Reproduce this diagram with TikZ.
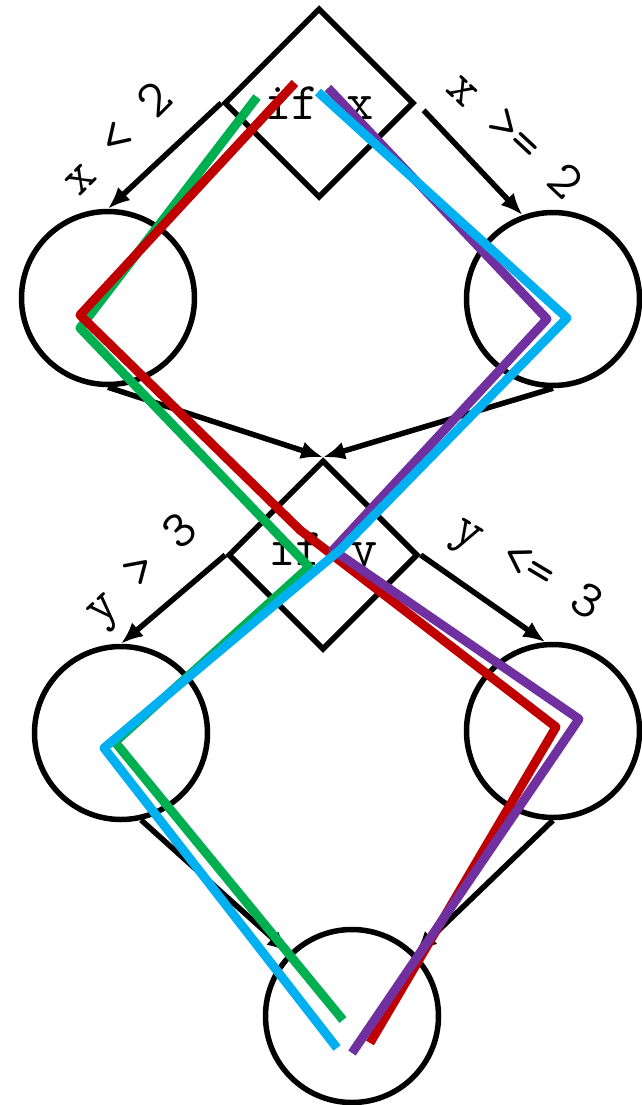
\documentclass[tikz,border=0pt]{standalone}
\usetikzlibrary{arrows.meta, positioning, shapes.geometric}
\definecolor{pathgreen}{RGB}{0,176,80}
\definecolor{pathred}{RGB}{192,0,0}
\definecolor{pathpurple}{RGB}{112,48,160}
\definecolor{pathblue}{RGB}{0,176,240}

\begin{document}
\begin{tikzpicture}[x=1pt, y=-1pt, line width=5.5pt,
  branch/.style={diamond, draw, minimum size=190pt, inner sep=0pt, font=\ttfamily\fontsize{53}{60}\selectfont},
  block/.style={circle, draw, minimum size=173pt, inner sep=0pt},
  cond/.style={font=\ttfamily\fontsize{53}{60}\selectfont},
  flow/.style={-{Latex[length=22pt,width=18pt]}},
  trace/.style={line width=9pt, line join=round}]
  \useasboundingbox (0,0) rectangle (642,1105);
  \node[branch] (ifx) at (319,103) {if x};
  \node[block] (xlt) at (108,298) {};
  \node[block] (xge) at (553,299) {};
  \node[branch] (ify) at (323,555) {if y};
  \node[block] (ygt) at (121,733) {};
  \node[block] (yle) at (553,731) {};
  \node[block] (out) at (352,1016) {};
  \draw[flow] (ifx.west) -- (xlt.north);
  \draw[flow, shorten <=10pt] (ifx.east) -- (xge.110);
  \draw[flow] (xlt.south) -- (ify.north);
  \draw[flow] (xge.south) -- (ify.north);
  \draw[flow] (ify.west) -- (ygt.north);
  \draw[flow] (ify.east) -- (yle.95);
  \draw[flow] (ygt.-77) -- (out.135);
  \draw[flow] (yle.south) -- (out.45);
  \node[cond, rotate=45] (lblxlt) at (116,138) {x < 2};
  \node[cond, rotate=-43] (lblxge) at (516,134) {x >= 2};
  \node[cond, rotate=43] (lblygt) at (143,572) {y > 3};
  \node[cond, rotate=-31] (lblyle) at (526,570) {y <= 3};
  \draw[pathgreen, trace] (257,97) -- (80,328) -- (309,567) -- (115,742) -- (343,1020);
  \draw[pathred, trace] (295,83) -- (80,315) -- (300,530) -- (556,727) -- (370,1043);
  \draw[pathpurple, trace] (328,88) -- (547,319) -- (333,550) -- (579,719) -- (352,1053);
  \draw[pathblue, trace] (318,92) -- (567,318) -- (340,550) -- (104,748) -- (337,1048);
\end{tikzpicture}
\end{document}
